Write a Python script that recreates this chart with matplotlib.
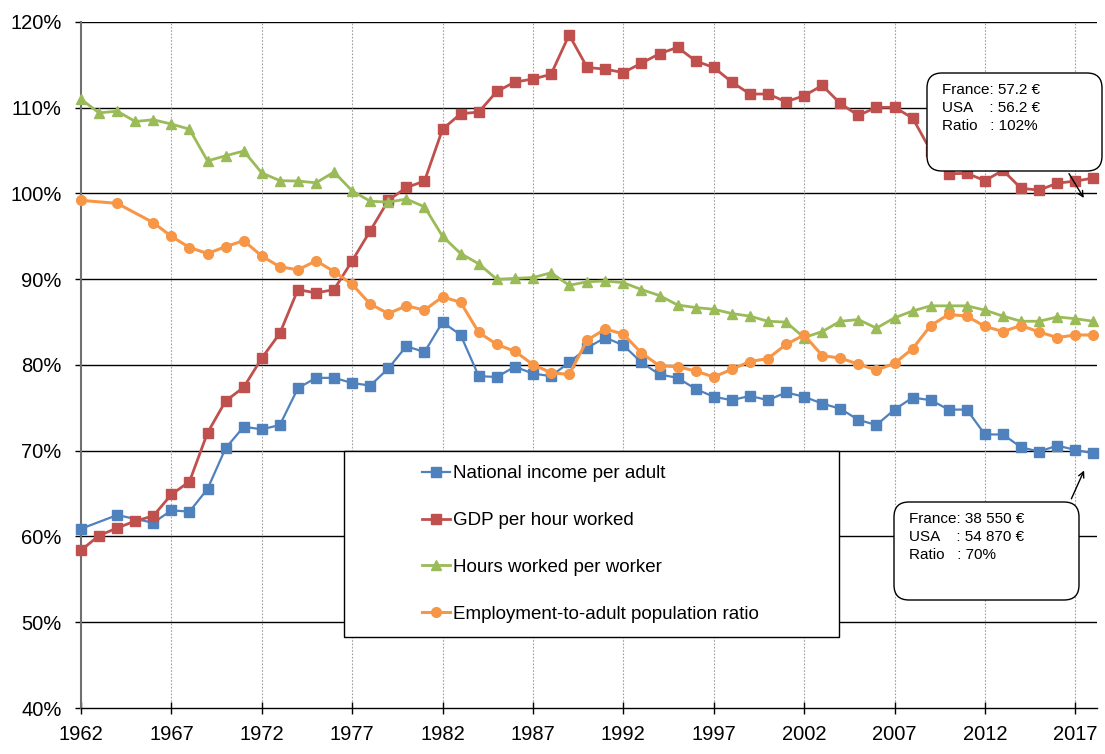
import matplotlib
matplotlib.use("Agg")
import matplotlib.pyplot as plt
from matplotlib.patches import FancyBboxPatch, Rectangle
import numpy as np

plt.rcParams['font.family'] = ['Liberation Sans', 'DejaVu Sans']

years_all = list(range(1962, 2019))
years_gap = [1962, 1964] + list(range(1966, 2019))

income = [60.9, 62.5, 61.6, 63.05, 62.9, 65.55, 70.3, 72.8, 72.5, 73.0,
          77.3, 78.5, 78.5, 77.9, 77.6, 79.6, 82.2, 81.5, 85.0, 83.5,
          78.7, 78.6, 79.8, 79.0, 78.7, 80.3, 82.0, 83.2, 82.3, 80.3,
          78.9, 78.5, 77.2, 76.3, 75.9, 76.4, 75.9, 76.8, 76.3, 75.5,
          74.9, 73.6, 73.0, 74.8, 76.2, 75.9, 74.8, 74.8, 71.9, 71.9,
          70.4, 69.9, 70.6, 70.1, 69.7]

gdp_hour = [58.4, 60.1, 61.0, 61.8, 62.4, 64.9, 66.4, 72.1, 75.8, 77.4,
            80.8, 83.7, 88.8, 88.4, 88.8, 92.15, 95.65, 99.2, 100.7, 101.45,
            107.5, 109.3, 109.5, 111.9, 113.0, 113.35, 113.9, 118.5, 114.7, 114.5,
            114.1, 115.2, 116.3, 117.05, 115.45, 114.7, 113.0, 111.6, 111.6, 110.7,
            111.4, 112.6, 110.5, 109.1, 110.05, 110.05, 108.8, 105.0, 102.3, 102.35,
            101.5, 102.7, 100.6, 100.4, 101.2, 101.45, 101.8]

hours = [111.0, 109.4, 109.6, 108.4, 108.6, 108.1, 107.5, 103.8, 104.4, 104.95,
         102.4, 101.5, 101.45, 101.25, 102.5, 100.3, 99.1, 99.0, 99.35, 98.45,
         95.0, 93.0, 91.8, 90.0, 90.1, 90.2, 90.75, 89.3, 89.7, 89.8,
         89.6, 88.8, 88.1, 87.0, 86.7, 86.5, 86.0, 85.7, 85.1, 85.0,
         83.2, 83.9, 85.1, 85.3, 84.3, 85.5, 86.3, 86.9, 86.9, 86.9,
         86.4, 85.7, 85.1, 85.1, 85.6, 85.4, 85.1]

employment = [99.2, 98.85, 96.6, 95.0, 93.7, 93.0, 93.8, 94.5, 92.7, 91.45,
              91.1, 92.15, 90.9, 89.4, 87.1, 86.0, 86.9, 86.4, 87.95, 87.3,
              83.8, 82.4, 81.6, 80.05, 79.1, 78.9, 82.9, 84.2, 83.6, 81.4,
              79.9, 79.8, 79.3, 78.6, 79.5, 80.4, 80.75, 82.4, 83.5, 81.1,
              80.8, 80.1, 79.4, 80.2, 81.9, 84.6, 85.9, 85.7, 84.5, 83.9,
              84.6, 83.85, 83.2, 83.5, 83.5]

labels = ["National income per adult", "GDP per hour worked",
          "Hours worked per worker", "Employment-to-adult population ratio"]
x_ticks = list(range(1962, 2018, 5))
y_ticks = list(range(40, 121, 10))

note_gdp = "France: 57.2 €\nUSA    : 56.2 €\nRatio   : 102%"
note_income = "France: 38 550 €\nUSA    : 54 870 €\nRatio   : 70%"

fig = plt.figure(figsize=(11.05, 7.54), dpi=100)
ax = fig.add_axes([81/1105, 1 - 708/754, (1097 - 81)/1105, (708 - 22)/754])

l1, = ax.plot(years_gap, income, color='#4F81BD', lw=1.6, marker='s', ms=6.5, clip_on=False, zorder=3)
l2, = ax.plot(years_all, gdp_hour, color='#C0504D', lw=2.0, marker='s', ms=6.5, clip_on=False, zorder=3)
l3, = ax.plot(years_all, hours, color='#9BBB59', lw=2.0, marker='^', ms=7.5, clip_on=False, zorder=3)
l4, = ax.plot(years_gap, employment, color='#F79646', lw=2.2, marker='o', ms=7, clip_on=False, zorder=3)

ax.set_xlim(1962, 2018.2)
ax.set_ylim(40, 120)
ax.set_xticks(x_ticks)
ax.set_yticks(y_ticks)
ax.set_yticklabels([f"{v}%" for v in y_ticks])
ax.tick_params(axis='y', labelsize=14.5, length=4, width=1, direction='out', pad=10)
ax.tick_params(axis='x', labelsize=14.5, length=8, width=1, direction='inout', pad=8)

for v in y_ticks[1:]:
    ax.axhline(v, color='black', lw=1, zorder=1)
for v in x_ticks[1:]:
    ax.axvline(v, color='#a0a0a0', lw=0.8, ls=(0, (1.5, 1.5)), zorder=1)

ax.spines['right'].set_visible(False)
ax.spines['top'].set_visible(False)
ax.spines['left'].set_color('#707070')
ax.spines['left'].set_linewidth(1.5)
ax.spines['bottom'].set_linewidth(1)

# legend box
tr = fig.dpi_scale_trans
fig.add_artist(Rectangle((3.44, 1.17), 4.95, 1.86, transform=tr, facecolor='white',
                         edgecolor='black', lw=1, zorder=4))
fig.legend([l1, l2, l3, l4], labels, loc='center', bbox_to_anchor=(5.905, 2.10),
           bbox_transform=tr, frameon=False, fontsize=13.5, labelspacing=1.59,
           handlelength=1.47, handletextpad=0.15)

# note boxes
fig.add_artist(FancyBboxPatch((9.27, 5.83), 1.75, 0.98, boxstyle="round,pad=0,rounding_size=0.15",
                              transform=tr, facecolor='white', edgecolor='black', lw=1, zorder=4))
fig.text(9.42, 6.71, note_gdp, transform=tr, fontsize=11, va='top', ha='left',
         linespacing=1.35, zorder=5)
fig.add_artist(FancyBboxPatch((8.94, 1.54), 1.85, 0.98, boxstyle="round,pad=0,rounding_size=0.15",
                              transform=tr, facecolor='white', edgecolor='black', lw=1, zorder=4))
fig.text(9.09, 2.42, note_income, transform=tr, fontsize=11, va='top', ha='left',
         linespacing=1.35, zorder=5)

ax.annotate("", xy=(2017.55, 99.2), xytext=(2016.57, 102.6),
            arrowprops=dict(arrowstyle='->', color='black', lw=1), annotation_clip=False, zorder=6)
ax.annotate("", xy=(2017.55, 68.0), xytext=(2016.72, 64.1),
            arrowprops=dict(arrowstyle='->', color='black', lw=1), annotation_clip=False, zorder=6)

fig.savefig("out.png", dpi=100)
